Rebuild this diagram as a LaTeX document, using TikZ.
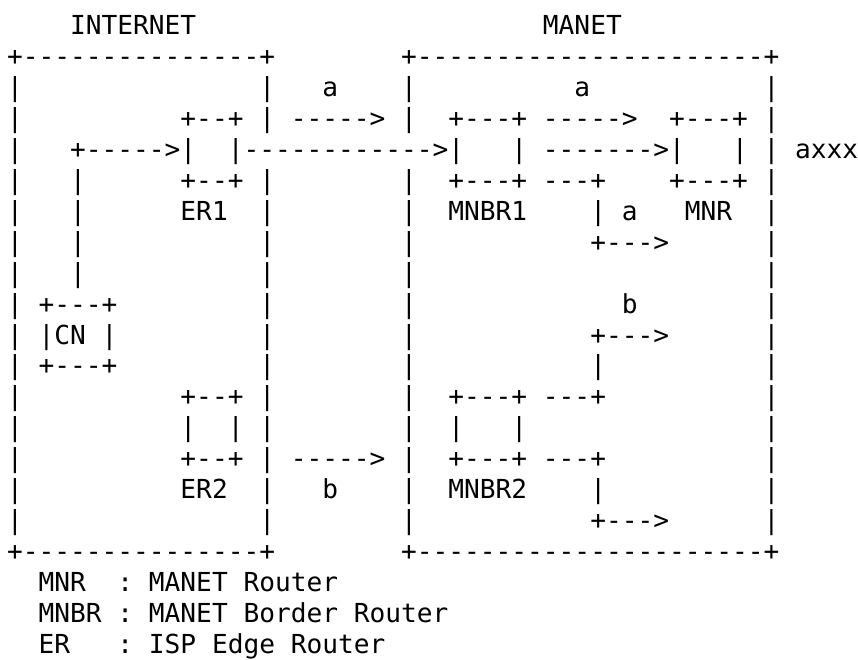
\documentclass[tikz,border=0pt]{standalone}
\usepackage{fontspec}
\newfontfamily\asc{DejaVu Sans Mono}
\tikzset{
  txt/.style={anchor=base west, inner sep=0pt, outer sep=0pt,
    font=\asc\fontsize{26.18pt}{31pt}\selectfont, text=black}
}
\begin{document}
\begin{tikzpicture}[x=15.76pt, y=-30.95pt]
\path[use as bounding box, fill=white] (0pt,0pt) rectangle (858pt,-659pt);
\begin{scope}[shift={(7.12pt,-34.5pt)}]
% titles
\node[txt] (tinet) at (4,0) {INTERNET};
\node[txt] (tmanet) at (34,0) {MANET};
% box borders
\node[txt] (ltop) at (0,1) {+---------------+};
\node[txt] (rtop) at (25,1) {+----------------------+};
\node[txt] (lbot) at (0,17) {+---------------+};
\node[txt] (rbot) at (25,17) {+----------------------+};
\foreach \r in {2,...,16} {
  \node[txt] (lb\r) at (0,\r) {|};
  \node[txt] (rb\r) at (48,\r) {|};
}
\foreach \r in {2,3,5,6,7,8,9,10,11,12,13,14,15,16} {
  \node[txt] (li\r) at (16,\r) {|};
  \node[txt] (ri\r) at (25,\r) {|};
}
% row 2
\node[txt] (a1) at (20,2) {a};
\node[txt] (a2) at (36,2) {a};
% row 3
\node[txt] (er1t) at (11,3) {+--+};
\node[txt] (arA) at (18,3) {----->};
\node[txt] (mb1t) at (28,3) {+---+};
\node[txt] (arB) at (34,3) {----->};
\node[txt] (mnrt) at (42,3) {+---+};
% row 4
\node[txt] (cnup) at (4,4) {+----->|};
\node[txt] (long) at (14,4) {|------------>|};
\node[txt] (mb1r) at (32,4) {|};
\node[txt] (arC) at (34,4) {------->|};
\node[txt] (mnrr) at (46,4) {|};
\node[txt] (axxx) at (50,4) {axxx};
% row 5
\node[txt] (v5) at (4,5) {|};
\node[txt] (er1b) at (11,5) {+--+};
\node[txt] (mb1b) at (28,5) {+---+};
\node[txt] (brA) at (34,5) {---+};
\node[txt] (mnrb) at (42,5) {+---+};
% row 6
\node[txt] (v6) at (4,6) {|};
\node[txt] (ler1) at (11,6) {ER1};
\node[txt] (lmb1) at (28,6) {MNBR1};
\node[txt] (vA) at (37,6) {|};
\node[txt] (a3) at (39,6) {a};
\node[txt] (lmnr) at (43,6) {MNR};
% row 7
\node[txt] (v7) at (4,7) {|};
\node[txt] (arD) at (37,7) {+--->};
% row 8
\node[txt] (v8) at (4,8) {|};
% row 9
\node[txt] (cnt) at (2,9) {+---+};
\node[txt] (b1) at (39,9) {b};
% row 10
\node[txt] (cn) at (2,10) {|CN~|};
\node[txt] (arE) at (37,10) {+--->};
% row 11
\node[txt] (cnb) at (2,11) {+---+};
\node[txt] (vB) at (37,11) {|};
% row 12
\node[txt] (er2t) at (11,12) {+--+};
\node[txt] (mb2t) at (28,12) {+---+};
\node[txt] (brB) at (34,12) {---+};
% row 13
\node[txt] (er2l) at (11,13) {|};
\node[txt] (er2r) at (14,13) {|};
\node[txt] (mb2l) at (28,13) {|};
\node[txt] (mb2r) at (32,13) {|};
% row 14
\node[txt] (er2b) at (11,14) {+--+};
\node[txt] (arF) at (18,14) {----->};
\node[txt] (mb2b) at (28,14) {+---+};
\node[txt] (brC) at (34,14) {---+};
% row 15
\node[txt] (ler2) at (11,15) {ER2};
\node[txt] (b2) at (20,15) {b};
\node[txt] (lmb2) at (28,15) {MNBR2};
\node[txt] (vC) at (37,15) {|};
% row 16
\node[txt] (arG) at (37,16) {+--->};
% legend
\node[txt] (leg1) at (2,18) {MNR~~:~MANET~Router};
\node[txt] (leg2) at (2,19) {MNBR~:~MANET~Border~Router};
\node[txt] (leg3) at (2,20) {ER~~~:~ISP~Edge~Router};
\end{scope}
\end{tikzpicture}
\end{document}
